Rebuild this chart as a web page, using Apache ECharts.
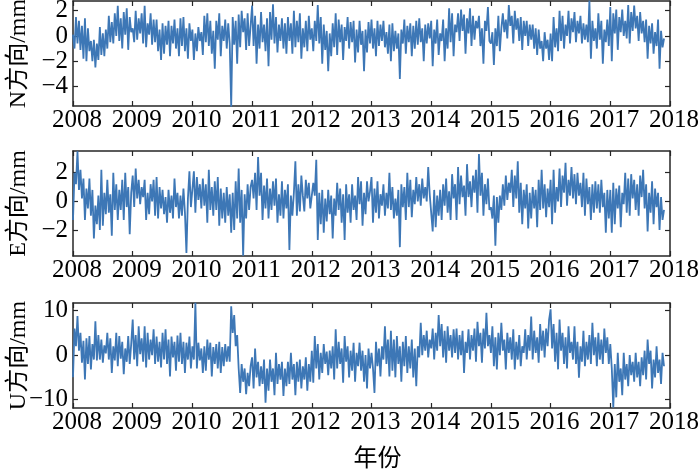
<!DOCTYPE html>
<html>
<head>
<meta charset="utf-8">
<script src="https://cdn.jsdelivr.net/npm/echarts@6/dist/echarts.min.js"></script>
<style>
html,body{margin:0;padding:0;background:#fff}
#chart{width:700px;height:472px}
</style>
</head>
<body>
<div id="chart"></div>
<script>
// daily GNSS residuals, every 0.025 yr
var startYear = 2008, stepYear = 0.025;
var yearTicks = [2008, 2009, 2010, 2011, 2012, 2013, 2014, 2015, 2016, 2017, 2018];
var nTicks = [2, 0, -2, -4];
var eTicks = [2, 0, -2];
var uTicks = [10, 0, -10];
var panelNames = ['N方向/mm', 'E方向/mm', 'U方向/mm'];
var xName = '年份';

var nValues = [
  0.1, -1.0, 1.5, -0.6, 1.2, -1.1, 0.8, -1.8, 1.4, -2.0, 0.6, -1.2, -0.4, -2.0, -0.3, -2.5, -0.6, -1.9, 0.7, -1.5, 0.2, -1.6, 0.5, -1.0, 1.6, -0.5, 1.1, -0.6, 1.8, 0.0, 2.4, -0.4, 1.4, -1.0, 1.9, 0.1, 2.2, -1.1, 1.5, 0.3,
  0.6, -0.5, 2.0, -0.3, 1.4, 0.2, 1.8, -0.6, 2.4, -0.9, 1.0, 0.1, 1.8, -0.7, 1.3, -0.5, 1.3, -1.2, 0.5, -1.9, 1.0, -1.4, 0.8, -0.7, 1.2, -1.6, 0.8, -0.6, 1.3, -1.0, 0.6, -1.6, 1.4, -0.8, 1.5, -1.2, 0.6, -1.8, 1.0, -0.4,
  0.5, -1.9, 0.2, -1.2, 0.7, -0.4, 0.3, -1.5, 1.6, -0.5, 1.8, -0.8, 1.2, -1.4, 0.4, -2.6, 1.2, -0.3, 1.8, -1.6, 0.8, -0.4, 1.3, -1.0, 1.0, -0.6, -5.6, 1.5, -0.7, 1.2, -2.2, 1.7, -0.9, 2.0, 0.3, 1.4, -1.1, 1.8, -0.8, 0.8,
  2.4, -0.8, 1.6, -2.2, 0.9, -1.0, 1.9, -0.5, 0.9, -1.2, 1.4, -2.4, 1.9, -0.3, 2.5, -0.6, 1.5, -1.3, 0.9, -0.4, 1.4, -1.0, 1.0, -1.4, 1.5, -0.4, 1.0, -1.4, 2.0, -0.9, 1.2, -0.5, 1.8, -1.8, 0.6, -0.9, 1.2, -1.2, 1.6, -0.3,
  0.6, -1.2, 1.2, -0.4, 2.45, -0.6, 1.5, -2.2, 0.9, -1.1, 0.4, -2.8, 0.2, -1.6, 1.0, -0.9, 1.8, -1.5, 1.3, -0.5, 0.9, -1.9, 0.7, -0.4, 1.5, -1.0, 1.1, -0.5, 1.2, -2.1, 0.5, -1.3, 1.2, -0.7, 0.4, -2.8, 0.5, -1.3, 1.1, -0.6,
  1.3, -1.0, 0.6, -1.6, 1.2, -0.8, 0.9, -0.4, 1.2, -0.9, 0.3, -1.4, 0.9, -2.0, 1.0, -1.2, 0.4, -1.0, 0.2, -3.4, 0.5, -0.6, 1.3, -1.4, 0.8, -0.5, 1.0, -1.6, 0.8, -1.0, 1.2, -0.7, 1.4, -0.5, 0.6, -2.0, 0.9, -0.6, 1.0, -0.2,
  1.2, -2.4, 0.5, -0.6, 1.3, -1.5, 0.2, -0.4, 1.3, -2.0, 0.6, -1.0, 2.2, -0.5, 1.8, -1.6, 0.9, 0.3, 1.8, -0.4, 2.1, 0.4, 1.7, -1.4, 1.4, 0.2, 2.2, -0.8, 1.6, -0.3, 1.2, 0.6, 1.6, -0.8, 0.6, -2.2, 1.2, 0.4, 2.3, -0.4,
  -0.6, 0.3, -2.3, 0.6, -0.8, 1.6, -1.2, 0.6, 1.8, 0.3, 1.3, -0.2, 2.45, 0.8, 1.6, -0.6, 2.0, 0.5, 1.4, -0.4, 1.5, -1.1, 1.2, 0.0, 1.2, -0.8, 0.9, -0.3, 0.9, -1.0, 0.6, -1.5, 0.5, -1.0, -0.4, -2.0, 0.3, -1.0, -0.3, -1.9,
  0.2, -2.0, 1.5, -0.9, 0.6, -1.2, 2.0, -0.4, 1.6, -1.0, 0.9, 0.0, 2.0, -0.6, 1.4, 0.3, 1.9, -0.5, 1.2, 0.2, 1.6, -0.6, 1.0, -0.3, 0.9, -0.5, 2.8, -1.8, 1.2, -0.4, 0.6, -1.0, 1.8, -0.3, 1.2, -2.2, 0.5, -0.5, 1.3, -0.8,
  2.3, -2.0, 1.8, 0.2, 2.1, -1.1, 1.5, 0.3, 2.1, 0.0, 1.2, -0.2, 2.45, -0.6, 1.9, 0.4, 2.4, 0.6, 1.6, -0.4, 1.9, 0.2, 1.2, -0.5, 1.3, -1.8, 0.8, -0.6, 1.0, -1.4, 0.3, -0.8, 1.3, -2.6, 0.4, -0.9, -0.2
];
var eValues = [
  -1.3, 2.0, 1.2, 3.5, 0.8, 2.2, 0.2, 1.6, -1.3, 0.9, -0.5, 1.6, -1.0, 0.8, -2.6, -0.3, -1.6, 0.4, -2.0, 2.2, -1.7, 0.6, -0.9, 1.5, -0.8, 0.5, -2.4, 2.0, -0.6, 1.2, -1.3, 0.8, -0.6, 1.5, -1.3, 2.0, -0.4, 1.0, -2.3, 0.6,
  1.8, -0.4, 2.3, 0.2, 1.5, -0.2, 1.0, 0.3, 1.5, -1.3, 0.6, -0.9, 1.2, 0.0, 1.5, -1.0, 1.7, -1.2, 1.0, -0.5, 0.8, -0.9, 0.3, -1.5, 0.8, -0.8, 0.4, -1.2, 1.6, -0.4, 0.6, -1.2, 0.4, -1.0, 0.9, -0.8, -3.6, 0.2, 2.1, -0.4,
  -0.4, 2.1, -0.8, 1.7, 0.1, 1.2, -0.5, 1.6, -0.3, 1.2, -1.5, 2.2, -0.6, 1.0, -1.0, 1.4, -0.6, 1.7, -1.7, 0.9, -1.2, 0.6, -1.5, 1.0, -1.0, 0.5, -2.2, 0.6, -2.0, 1.4, -1.2, 2.3, -1.5, 0.8, -3.8, 0.5, -1.2, 1.2, -0.6, 1.0,
  1.5, 0.2, 2.0, -0.6, 3.1, 0.4, 2.0, -1.3, 1.1, -0.5, 1.6, -1.2, 0.9, -0.6, 1.4, -0.3, 1.6, -1.5, 0.5, -1.0, 1.4, -1.2, 0.8, -0.5, 1.2, -3.4, 0.4, -1.0, 0.6, 2.8, -1.0, 1.2, -0.7, 1.8, 0.4, -0.7, 1.5, 0.2, 1.3, -0.5,
  -0.5, 1.3, 0.4, 2.9, -2.7, 0.6, -1.6, 0.8, -2.2, 0.2, -1.4, 0.8, -0.9, 0.4, -2.6, 0.2, -1.0, 1.3, -0.6, 0.9, -1.5, 0.5, -2.7, 1.2, -0.8, 0.5, -1.5, 1.2, -0.6, 0.4, -1.3, 1.7, -0.2, 1.4, -1.7, 0.6, -0.9, 1.4, 0.0, 0.7,
  1.7, -1.5, 0.9, -0.8, 1.4, -1.2, 0.5, -0.3, 1.2, -1.0, 0.6, -0.5, 2.0, -0.6, 1.0, -1.2, 0.2, -1.0, 0.8, -3.2, 1.2, -0.4, 1.0, -1.3, 2.0, -0.4, 1.5, -1.1, 0.8, -0.2, 1.7, 0.0, 1.2, -0.3, 1.6, 0.2, 1.0, 0.0, 2.4, 0.5,
  0.6, -2.1, 0.8, -1.8, 0.4, -1.0, 0.8, -1.3, 1.2, -0.3, 1.6, -0.8, 0.7, -1.3, 1.9, 0.2, 1.2, -1.3, 2.4, -0.2, 1.8, 0.3, 1.1, -1.0, 2.6, 0.3, 1.4, -0.4, 1.8, 0.6, 2.2, -0.8, 3.3, 0.4, 2.0, -1.0, 1.2, -0.2, 1.6, -0.6,
  -0.4, -1.2, 0.4, -3.1, 0.3, -1.5, 0.4, -0.6, 1.2, -0.3, 1.8, 0.1, 1.3, 0.6, 2.2, -0.4, 1.8, 0.2, 2.8, -0.8, 1.3, -1.6, 0.8, -0.5, 1.2, -1.9, 0.6, -1.2, 1.0, -0.5, 0.8, -1.8, 1.5, -0.6, 2.2, -0.5, 1.2, -1.1, 0.9, -0.4,
  1.5, -1.6, 2.2, -0.8, 1.0, 0.0, 2.3, -0.4, 1.8, 0.6, 2.7, -0.3, 1.5, 0.4, 2.4, 0.2, 1.9, -0.2, 2.0, 0.4, 1.3, -0.4, 2.0, -1.0, 1.6, -0.2, 1.0, -1.3, 1.2, -0.8, 1.4, -0.5, 1.2, -0.8, 1.5, -0.4, 0.6, -2.2, 0.8, -1.2,
  0.8, -2.2, 1.3, -1.6, 0.9, -0.5, 1.1, -1.8, 0.6, -0.2, 2.0, -0.8, 1.6, -1.0, 1.9, 0.2, 1.5, -0.6, 1.2, -1.0, 1.8, 0.3, 2.2, -0.5, 1.2, -2.1, 0.6, -0.8, 1.4, -1.6, 0.9, -0.4, 0.6, -2.0, 0.3, -1.3, -0.6
];
var uValues = [
  -5.0, 6.0, 2.0, 8.8, 1.0, 5.0, -1.7, 3.2, -5.5, 3.8, -2.0, 4.3, -3.2, 2.5, -1.0, 7.6, -1.2, 4.5, -1.0, 3.5, -1.7, 2.2, 0.4, 5.0, -1.0, 3.8, -4.0, 2.0, -1.2, 5.0, -2.5, 4.3, -0.8, 3.0, -4.3, 1.5, -1.5, 4.3, -2.0, 2.5,
  8.0, -1.0, 4.5, -2.5, 6.5, 0.2, 3.8, -1.5, 6.5, -2.8, 5.0, -1.0, 3.5, 0.0, 5.8, -2.0, 4.2, -1.5, 3.0, -2.8, 5.0, -1.0, 5.8, -2.0, 3.5, -4.8, 4.2, -0.5, 3.0, -3.5, 4.4, -1.5, 5.0, -2.0, 3.0, -4.0, 2.8, -1.0, 4.2, -3.0,
  2.0, -1.0, 11.8, -3.0, 2.8, -1.2, 1.5, -4.0, 2.0, -3.5, 3.5, -1.0, 2.8, -4.8, 1.8, -2.0, 2.5, -3.0, 3.0, -4.0, 1.8, -2.5, 2.5, -1.5, 2.0, -1.5, 11.0, 5.0, 9.0, 2.0, 4.5, -3.0, -8.5, -2.0, -6.0, -3.0, -8.8, -4.0, -7.0, -2.5,
  -0.5, -7.5, 1.5, -5.0, -1.5, -7.0, -2.5, -6.5, -1.0, -10.7, -3.0, -8.0, -1.0, -6.0, -3.0, -9.0, 0.5, -6.5, -2.0, -5.5, -1.5, -9.2, -3.0, -7.0, -1.5, -6.5, 0.5, -5.5, -2.0, -9.0, -1.5, -6.0, -1.0, -7.5, -2.5, -5.5, -0.5, -8.0, -2.0, -6.0,
  1.0, -6.2, 4.3, -3.0, 2.5, -5.5, 0.5, -4.0, 2.5, -2.0, 0.8, -4.5, 1.0, -3.0, 2.0, -5.5, 5.8, -3.0, 3.0, -2.0, 1.5, -6.2, 4.3, -1.5, 2.0, -5.0, 1.0, -3.5, 2.8, -6.0, 0.5, -2.5, 2.8, -3.5, 1.0, -6.0, 0.0, -7.5, 1.5, -3.0,
  0.5, -3.0, -8.5, 3.0, -2.5, 1.5, -4.8, 2.0, -1.0, 6.5, -2.0, 3.5, -4.8, 5.5, -3.5, 3.5, -5.0, 4.3, -2.0, 2.0, -6.0, 3.0, -2.5, 4.3, -4.0, 2.0, -3.0, 3.5, -5.0, 1.5, -7.0, 2.0, -0.5, 7.3, 0.0, 4.5, 1.0, 5.5, -0.5, 3.5,
  1.5, 6.0, -1.0, 5.0, 1.0, 9.0, 2.0, 7.0, -0.5, 5.5, -1.7, 6.5, 1.0, 4.5, -0.5, 5.8, 0.5, 6.0, -1.0, 4.5, 0.0, 5.5, -4.0, 3.0, 0.5, 5.8, -1.0, 4.5, 1.0, 6.0, -1.5, 7.5, 2.0, 5.0, -1.7, 6.0, 1.5, 9.5, 2.0, 4.5,
  0.5, 6.5, -2.5, 4.0, -3.2, 5.0, 0.0, 7.3, 1.0, 3.5, -3.2, 5.0, 0.5, 4.0, -1.0, 5.8, -3.2, 3.0, -1.0, 4.5, -2.5, 2.0, 0.5, 5.8, -1.0, 4.5, 1.0, 8.7, -1.0, 5.5, 0.5, 4.0, -1.7, 7.0, 1.0, 5.5, -0.5, 6.0, 2.0, 8.0,
  10.3, 1.5, 7.0, -1.5, 5.0, -3.2, 8.0, 1.0, 5.0, -2.0, 4.0, -3.0, 6.5, 0.5, 3.0, -1.0, 6.5, -2.0, 3.0, -5.1, 2.0, -1.5, 5.5, -2.5, 3.0, -1.0, 4.5, -2.0, 7.3, 0.0, 4.0, -2.5, 5.0, -1.0, 3.5, -2.0, 6.0, 0.5, 4.0, -2.0,
  2.5, -3.0, -11.8, -2.0, -9.5, 0.5, -6.0, -3.0, -9.0, 0.5, -5.5, -2.0, -7.0, 0.0, -4.5, -1.5, -6.0, 0.5, -5.0, -1.5, -7.0, -0.5, -4.5, 1.0, -5.5, 3.5, -2.0, 1.0, -7.5, -1.0, -5.0, 2.0, -4.0, -1.0, -6.5, 0.5, -2.5
];

var lineColor = '#3d77b6';
var frameColor = '#262626';
var font = "'Liberation Serif', 'Times New Roman', 'Noto Sans CJK SC', serif";

function toPoints(vals) {
  return vals.map(function (v, i) {
    return [+(startYear + i * stepYear).toFixed(3), v];
  });
}
function fmt(v) {
  return v < 0 ? '\u2212' + (-v) : String(v);
}

var panels = [
  {values: nValues, ticks: nTicks, min: -5.55, max: 2.77, top: 1},
  {values: eValues, ticks: eTicks, min: -3.82, max: 3.52, top: 151},
  {values: uValues, ticks: uTicks, min: -11.9, max: 11.73, top: 303}
];

var grids = [], xAxes = [], yAxes = [], series = [];
panels.forEach(function (p, k) {
  grids.push({left: 73, top: p.top, width: 597, height: 105, containLabel: false, outerBoundsMode: 'none'});
  var axLine = {show: true, onZero: false, lineStyle: {color: frameColor, width: 1.5}};
  var tick = {show: true, inside: true, length: 5, lineStyle: {color: frameColor, width: 1.2}};
  xAxes.push({
    gridIndex: k, type: 'value', position: 'bottom', min: 2008, max: 2018, interval: 1,
    axisLine: axLine, axisTick: tick, splitLine: {show: false},
    axisLabel: {
      customValues: yearTicks,
      color: '#000', fontFamily: font, fontSize: 25, margin: 2, padding: [0, 0, 0, 8],
      showMinLabel: true, showMaxLabel: true, hideOverlap: false,
      formatter: function (v) { return String(v); }
    }
  });
  xAxes.push({
    gridIndex: k, type: 'value', position: 'top', min: 2008, max: 2018, interval: 1,
    axisLine: axLine, axisTick: tick, splitLine: {show: false}, axisLabel: {show: false}
  });
  yAxes.push({
    gridIndex: k, type: 'value', position: 'left', min: p.min, max: p.max,
    axisLine: axLine,
    axisTick: {show: true, inside: true, length: 5, customValues: p.ticks, lineStyle: {color: frameColor, width: 1.2}},
    splitLine: {show: false},
    axisLabel: {
      customValues: p.ticks, formatter: fmt, color: '#000', fontFamily: font, fontSize: 25, margin: 5,
      padding: [6, 0, 0, 0], showMinLabel: true, showMaxLabel: true, hideOverlap: false
    },
    name: panelNames[k], nameLocation: 'middle', nameGap: 42, nameMoveOverlap: false,
    nameTextStyle: {color: '#000', fontFamily: font, fontSize: 24}
  });
  yAxes.push({
    gridIndex: k, type: 'value', position: 'right', min: p.min, max: p.max,
    axisLine: axLine,
    axisTick: {show: true, inside: true, length: 5, customValues: p.ticks, lineStyle: {color: frameColor, width: 1.2}},
    splitLine: {show: false}, axisLabel: {show: false}
  });
  series.push({
    type: 'line', xAxisIndex: k * 2, yAxisIndex: k * 2,
    data: toPoints(p.values), showSymbol: false, symbol: 'none',
    lineStyle: {color: lineColor, width: 1.8}, clip: true
  });
});

var chart = echarts.init(document.getElementById('chart'));
chart.setOption({
  animation: false,
  backgroundColor: '#fff',
  grid: grids,
  xAxis: xAxes,
  yAxis: yAxes,
  series: series,
  graphic: [{
    type: 'text', x: 377.5, y: 456.5,
    style: {text: xName, fill: '#000', font: "24px 'Noto Sans CJK SC'", textAlign: 'center', textVerticalAlign: 'middle'}
  }]
});
</script>
</body>
</html>
